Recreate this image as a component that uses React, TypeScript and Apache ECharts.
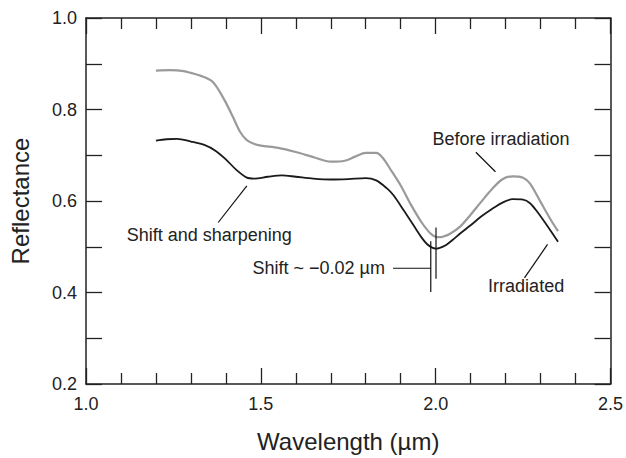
import React, { useEffect, useRef } from "react";
import * as echarts from "echarts";

const beforeWavelength = [1.2, 1.24, 1.28, 1.3, 1.33, 1.36, 1.38, 1.4, 1.42, 1.44, 1.46, 1.48, 1.5, 1.55, 1.6, 1.65, 1.7, 1.74, 1.77, 1.8, 1.83, 1.85, 1.87, 1.9, 1.93, 1.96, 1.98, 1.99, 2.0, 2.01, 2.02, 2.04, 2.07, 2.1, 2.13, 2.16, 2.19, 2.22, 2.25, 2.27, 2.3, 2.33, 2.35];
const beforeReflectance = [0.885, 0.886, 0.884, 0.88, 0.873, 0.862, 0.842, 0.815, 0.784, 0.752, 0.733, 0.725, 0.721, 0.716, 0.707, 0.696, 0.686, 0.688, 0.697, 0.705, 0.705, 0.693, 0.67, 0.634, 0.591, 0.553, 0.533, 0.526, 0.522, 0.521, 0.522, 0.528, 0.544, 0.57, 0.598, 0.625, 0.647, 0.654, 0.651, 0.638, 0.598, 0.558, 0.534];

const irradiatedWavelength = [1.2, 1.23, 1.26, 1.3, 1.34, 1.37, 1.4, 1.43, 1.46, 1.48, 1.52, 1.56, 1.6, 1.65, 1.7, 1.75, 1.8, 1.83, 1.86, 1.88, 1.91, 1.94, 1.96, 1.975, 1.99, 2.0, 2.01, 2.03, 2.05, 2.07, 2.1, 2.13, 2.16, 2.19, 2.22, 2.25, 2.27, 2.29, 2.32, 2.35];
const irradiatedReflectance = [0.732, 0.735, 0.736, 0.73, 0.722, 0.71, 0.691, 0.668, 0.651, 0.649, 0.653, 0.656, 0.653, 0.649, 0.647, 0.648, 0.65, 0.645, 0.628, 0.612, 0.578, 0.543, 0.52, 0.506, 0.498, 0.496, 0.497, 0.504, 0.516, 0.529, 0.547, 0.566, 0.582, 0.596, 0.604, 0.603, 0.595, 0.577, 0.545, 0.511];

const xTickLabels = ["1.0", "1.5", "2.0", "2.5"];
const yTickLabels = ["0.2", "0.4", "0.6", "0.8", "1.0"];

// annotation texts anchored in data space: [text, wavelength, reflectance]
const annotationTexts: [string, number, number][] = [
  ["Before irradiation", 1.991, 0.735],
  ["Shift and sharpening", 1.1165, 0.525],
  ["Shift ~ \u22120.02 \u00b5m", 1.476, 0.453],
  ["Irradiated", 2.15, 0.415],
];
// leader lines in data space: [w1, r1, w2, r2]
const annotationLines: [number, number, number, number][] = [
  [2.115, 0.7065, 2.171, 0.664],
  [1.46, 0.633, 1.378, 0.553],
  [1.878, 0.453, 1.986, 0.453],
  [1.986, 0.512, 1.986, 0.401],
  [2.001, 0.542, 2.001, 0.43],
  [2.32, 0.505, 2.254, 0.432],
];

const FONT = "Liberation Sans, Arial, Helvetica, sans-serif";
const TEXT = "#222";
const AXIS = "#222";

export default function App() {
  const ref = useRef<HTMLDivElement>(null);
  useEffect(() => {
    if (!ref.current) return;
    const chart = echarts.init(ref.current, null, { renderer: "svg" });
    const axisLine = { show: true, lineStyle: { color: AXIS, width: 1.5 } };
    const xCommon = {
      type: "value" as const,
      min: 1,
      max: 2.5,
      interval: 0.5,
      axisLine,
      axisTick: { show: true, inside: true, length: 16, lineStyle: { color: AXIS, width: 1.3 } },
      minorTick: { show: true, splitNumber: 5, length: 11, lineStyle: { color: AXIS, width: 1.3 } },
      splitLine: { show: false },
      minorSplitLine: { show: false },
    };
    const yCommon = {
      type: "value" as const,
      min: 0.2,
      max: 1.0,
      interval: 0.1,
      axisLine,
      axisTick: { show: true, inside: true, length: 16, lineStyle: { color: AXIS, width: 1.3 } },
      splitLine: { show: false },
    };
    const option: any = {
      animation: false,
      backgroundColor: "#fff",
      textStyle: { fontFamily: FONT },
      grid: { left: 83, top: 18, width: 528, height: 369, containLabel: false },
      xAxis: [
        {
          ...xCommon,
          position: "bottom",
          axisLabel: {
            show: true,
            fontSize: 18,
            color: TEXT,
            fontFamily: FONT,
            margin: 11,
            formatter: (v: number) => {
              const s = v.toFixed(1);
              return xTickLabels.includes(s) ? s : "";
            },
          },
          name: "Wavelength (\u00b5m)",
          nameLocation: "middle",
          nameGap: 57,
          nameTextStyle: { fontSize: 24, color: TEXT, fontFamily: FONT, verticalAlign: "middle" },
        },
        { ...xCommon, position: "top", axisLabel: { show: false } },
      ],
      yAxis: [
        {
          ...yCommon,
          position: "left",
          axisLabel: {
            show: true,
            fontSize: 18,
            color: TEXT,
            fontFamily: FONT,
            margin: 9,
            formatter: (v: number) => {
              const s = v.toFixed(1);
              return yTickLabels.includes(s) ? s : "";
            },
          },
          name: "Reflectance",
          nameLocation: "middle",
          nameGap: 66,
          nameRotate: 90,
          nameTextStyle: { fontSize: 24, color: TEXT, fontFamily: FONT, verticalAlign: "middle" },
        },
        { ...yCommon, position: "right", axisLabel: { show: false } },
      ],
      series: [
        {
          name: "Before irradiation",
          type: "line",
          data: beforeWavelength.map((w, i) => [w, beforeReflectance[i]]),
          showSymbol: false,
          smooth: 0.3,
          lineStyle: { color: "#9a9a9a", width: 2.2 },
          z: 2,
        },
        {
          name: "Irradiated",
          type: "line",
          data: irradiatedWavelength.map((w, i) => [w, irradiatedReflectance[i]]),
          showSymbol: false,
          smooth: 0.3,
          lineStyle: { color: "#1a1a1a", width: 1.8 },
          z: 3,
        },
      ],
    };
    chart.setOption(option);
    const px = (w: number, r: number) => chart.convertToPixel({ gridIndex: 0 }, [w, r]) as number[];
    const graphics: any[] = [];
    annotationTexts.forEach(([t, w, r]) => {
      const p = px(w, r);
      graphics.push({
        type: "text",
        x: p[0],
        y: p[1],
        style: { text: t, fill: TEXT, font: `18px ${FONT}`, textAlign: "left", textVerticalAlign: "middle" },
        z: 10,
      });
    });
    annotationLines.forEach(([w1, r1, w2, r2]) => {
      const a = px(w1, r1);
      const b = px(w2, r2);
      graphics.push({
        type: "line",
        shape: { x1: a[0], y1: a[1], x2: b[0], y2: b[1] },
        style: { stroke: "#111", lineWidth: 1.2 },
        z: 10,
      });
    });
    chart.setOption({ graphic: graphics });
    return () => chart.dispose();
  }, []);
  return <div ref={ref} style={{ position: "fixed", left: 0, top: 0, width: 626, height: 458 }} />;
}
